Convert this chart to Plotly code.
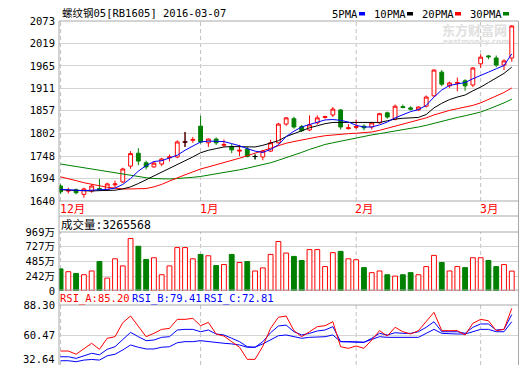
import plotly.graph_objects as go

# ---------------- data ----------------
idx = list(range(59))
month_labels = ["12月", "1月", "2月", "3月"]
month_pos = [0, 18, 38, 54]

opens = [1676,1664,1667,1656,1664,1670,1667,1679,1686,1724,1755,1732,1722,1729,1744,1746,1782,1786,1820,1780,
         1789,1774,1770,1760,1765,1747,1746,1760,1780,1825,1838,1819,1811,1828,1841,1847,1859,1814,1817,1820,
         1818,1828,1852,1837,1867,1864,1859,1868,1893,1950,1917,1923,1929,1919,1970,1989,1984,1967,1984]
highs = [1680,1672,1670,1672,1680,1693,1684,1689,1720,1760,1767,1737,1736,1744,1752,1786,1806,1794,1845,1790,
         1793,1788,1777,1775,1770,1752,1763,1787,1828,1842,1843,1823,1846,1846,1845,1866,1861,1825,1836,1824,
         1830,1852,1855,1872,1872,1868,1868,1894,1957,1955,1927,1937,1933,1962,1993,1991,1990,1981,2063]
lows = [1657,1658,1656,1648,1660,1664,1664,1672,1683,1718,1726,1716,1720,1724,1735,1743,1770,1780,1778,1770,
        1775,1770,1755,1748,1745,1740,1738,1758,1778,1821,1814,1806,1808,1824,1838,1842,1812,1812,1813,1810,
        1812,1826,1838,1834,1863,1858,1857,1865,1891,1916,1912,1904,1905,1914,1960,1981,1962,1955,1975]
closes = [1662,1665,1660,1669,1676,1667,1681,1681,1717,1754,1736,1722,1731,1741,1746,1782,1782,1788,1782,1789,
          1780,1776,1763,1762,1747,1747,1760,1780,1825,1840,1818,1809,1823,1840,1843,1861,1818,1816,1819,1816,
          1828,1850,1842,1868,1865,1861,1866,1890,1955,1921,1924,1925,1917,1960,1986,1987,1967,1977,2061]

ma5 = [1668,1667,1666,1665,1666,1667,1668,1671,1680,1694,1712,1725,1735,1737,1744,1750,1762,1773,1782,1784,
       1784,1783,1778,1773,1766,1760,1757,1764,1775,1795,1808,1818,1824,1830,1835,1836,1834,1830,1822,1818,
       1818,1823,1830,1840,1848,1855,1860,1870,1890,1907,1918,1922,1925,1934,1943,1950,1958,1966,1994]
ma10 = [1667,1666,1665,1664,1664,1665,1665,1666,1669,1674,1682,1691,1700,1710,1718,1727,1736,1746,1756,1762,
        1766,1770,1771,1771,1770,1770,1774,1779,1785,1795,1802,1810,1816,1821,1826,1829,1829,1828,1828,1828,
        1828,1829,1833,1837,1839,1840,1841,1848,1864,1875,1884,1890,1895,1905,1914,1925,1935,1947,1962]
ma20 = [1698,1694,1689,1684,1680,1676,1673,1671,1669,1669,1669,1670,1674,1680,1688,1696,1703,1710,1717,1722,
        1727,1732,1737,1743,1749,1755,1762,1768,1774,1779,1783,1787,1790,1794,1797,1799,1801,1802,1803,1805,
        1806,1810,1815,1820,1824,1829,1834,1840,1847,1853,1858,1862,1866,1870,1876,1884,1892,1901,1912]
ma30 = [1729,1726,1723,1720,1716,1713,1710,1707,1704,1701,1698,1696,1694,1693,1693,1694,1695,1697,1699,1702,
        1705,1708,1711,1715,1719,1723,1727,1732,1738,1744,1751,1757,1764,1770,1776,1780,1784,1788,1792,1796,
        1799,1802,1805,1809,1812,1815,1818,1822,1827,1832,1837,1841,1845,1849,1854,1861,1868,1876,1885]

volume_wan = [363,317,289,267,329,484,212,529,412,863,735,518,546,267,412,713,713,529,601,579,
              418,434,601,468,484,329,379,601,813,623,568,501,680,680,401,630,651,529,513,384,
              301,329,267,245,267,301,267,401,585,468,329,401,384,546,546,501,401,434,326.56]

rsi_a = [45.6,45.6,42.6,48.1,52.8,47.2,57.4,58.9,71.9,78.1,68.2,58.9,62.0,65.7,66.6,75.0,75.0,75.9,69.1,72.2,
         61.4,59.5,54.3,49.1,37.9,37.9,50.0,66.7,76.9,78.1,64.5,58.9,63.5,68.2,69.1,72.8,49.6,48.1,50.3,48.1,
         55.8,64.5,59.5,67.6,63.5,61.4,64.5,72.8,81.5,64.5,64.5,64.5,60.5,71.3,75.0,73.7,64.5,65.7,85.20]
rsi_b = [40.3,40.3,38.8,41.2,43.5,42.1,47.2,49.6,55.8,62.9,58.9,55.2,55.8,58.3,58.9,65.1,65.7,65.7,63.5,65.1,
         61.4,60.5,57.4,54.3,49.6,49.1,54.3,62.6,68.8,69.7,63.5,60.5,62.0,64.2,65.1,68.2,54.3,54.3,54.3,53.7,
         57.4,62.0,60.5,62.6,62.0,62.0,63.5,67.6,72.8,63.5,63.5,63.5,62.0,67.6,70.7,70.7,65.1,65.7,79.41]
rsi_c = [36.6,36.6,35.7,37.2,37.8,37.2,41.2,42.6,46.6,51.2,49.1,47.5,47.5,49.1,49.6,53.3,54.3,54.3,55.2,54.3,
         53.3,52.8,52.2,51.2,49.1,49.1,52.2,56.4,59.8,60.5,58.9,57.4,58.3,58.3,58.9,60.5,54.3,54.3,54.3,53.7,
         56.4,58.9,58.3,58.3,58.3,58.3,58.3,62.0,65.7,62.0,61.4,61.4,61.4,63.5,65.7,65.7,63.5,63.5,72.81]

price_ticks = [1640, 1694, 1748, 1802, 1857, 1911, 1965, 2019, 2073]
vol_ticks = [0, 242, 485, 727, 969]
vol_tick_text = ["0", "242万", "485万", "727万", "969万"]
rsi_ticks = [60.47, 88.30]
rsi_tick_text = ["60.47", "88.30"]
rsi_bottom_label = "32.64"

title_text = "螺纹钢05[RB1605] 2016-03-07"
vol_header = "成交量:3265568"
legend_names = ["5PMA", "10PMA", "20PMA", "30PMA"]

# ---------------- styles ----------------
RED = "#ff0000"
GREEN = "#008000"
BLUE = "#0000ff"
BLACK = "#000000"
GRID = "#d4d4d4"
BORDER = "#a8a8a8"
FONT = "DejaVu Sans Mono, Noto Sans CJK SC, monospace"
FS = 10.5

W, H = 520, 365
ML, MR = 59, 2
PW = W - ML - MR


def px(x):
    return (x - ML) / PW


def py(y):
    return 1 - y / H


fig = go.Figure()

fig.add_trace(go.Candlestick(
    x=idx, open=opens, high=highs, low=lows, close=closes,
    increasing=dict(line=dict(color=RED, width=1), fillcolor="#ffffff"),
    decreasing=dict(line=dict(color=GREEN, width=1), fillcolor=GREEN),
    whiskerwidth=0, hoverinfo="skip", xaxis="x", yaxis="y"))

dx, dy = [], []
for i in idx:
    if opens[i] == closes[i]:
        dx += [i, i, None, i - 0.33, i + 0.33, None]
        dy += [lows[i], highs[i], None, closes[i], closes[i], None]
fig.add_trace(go.Scatter(x=dx, y=dy, mode="lines", line=dict(color=BLACK, width=1),
                         hoverinfo="skip", xaxis="x", yaxis="y"))

for vals, col in [(ma30, GREEN), (ma20, RED), (ma10, BLACK), (ma5, BLUE)]:
    fig.add_trace(go.Scatter(x=idx, y=vals, mode="lines", line=dict(color=col, width=1),
                             hoverinfo="skip", xaxis="x", yaxis="y"))

down = [closes[i] < opens[i] for i in idx]
fig.add_trace(go.Bar(
    x=idx, y=volume_wan, width=0.62,
    marker=dict(color=[GREEN if d else "#ffffff" for d in down],
                line=dict(color=[GREEN if d else RED for d in down], width=1)),
    hoverinfo="skip", xaxis="x", yaxis="y2"))

for vals, col in [(rsi_c, BLUE), (rsi_b, BLUE), (rsi_a, RED)]:
    fig.add_trace(go.Scatter(x=idx, y=vals, mode="lines", line=dict(color=col, width=1),
                             hoverinfo="skip", xaxis="x", yaxis="y3"))

# ---------------- shapes ----------------
shapes = []
panels = [(21, 201), (232, 290), (305, 365)]
for m in month_pos:
    for (t, b) in panels:
        shapes.append(dict(type="line", xref="x", yref="paper", x0=m, x1=m, y0=py(b), y1=py(t),
                           line=dict(color="#c0c0c0", width=1, dash="4px,3px"), layer="below"))
for y in [21, 201, 216, 232, 290, 305]:
    shapes.append(dict(type="line", xref="paper", yref="paper", x0=px(59), x1=px(518.5),
                       y0=py(y), y1=py(y), line=dict(color=BORDER, width=1)))
for x in [59, 518.5]:
    shapes.append(dict(type="line", xref="paper", yref="paper", x0=px(x), x1=px(x),
                       y0=py(365), y1=py(21), line=dict(color=BORDER, width=1)))
key_cols = [BLUE, BLACK, RED, GREEN]
key_x = [359, 407, 455, 503]
for c, kx in zip(key_cols, key_x):
    shapes.append(dict(type="rect", xref="paper", yref="paper", x0=px(kx), x1=px(kx + 6),
                       y0=py(15.5), y1=py(12), fillcolor=c, line=dict(width=0)))

# ---------------- annotations ----------------
ann = []


def text(t, x, y, color=BLACK, size=FS, anchor="left", family=FONT, xref="paper", xshift=0):
    ann.append(dict(text=t, x=x, y=y, xref=xref, yref="paper", xanchor=anchor, yanchor="middle",
                    showarrow=False, xshift=xshift, borderpad=0,
                    font=dict(family=family, size=size, color=color)))


text(title_text, px(61), py(13))
leg_x = [331, 373, 421, 469]
for name, lx in zip(legend_names, leg_x):
    text(name, px(lx), py(13.5))
text("<b>东方财富网</b>", px(474), py(29), color="#e0e0e0", size=13, anchor="center",
     family="Noto Sans CJK SC, sans-serif")
text("<b>eastmoney.com</b>", px(476), py(42), color="#e0e0e0", size=7.5, anchor="center",
     family="DejaVu Sans, sans-serif")
for lab, m in zip(month_labels, month_pos):
    text(lab, m, py(208.5), color=RED, size=11.5, xref="x", xshift=-2)
text(vol_header, px(60), py(224.5), size=11.5)
rsi_head = [("RSI_A:%.2f" % rsi_a[-1], RED, 59), ("RSI_B:%.2f" % rsi_b[-1], BLUE, 131),
            ("RSI_C:%.2f" % rsi_c[-1], BLUE, 203)]
for t, c, x0 in rsi_head:
    text(t, px(x0), py(298.5), color=c)
text(rsi_bottom_label, px(56), py(359), anchor="right")

axis_common = dict(showgrid=True, gridcolor=GRID, gridwidth=1, zeroline=False, showline=False,
                   ticks="", fixedrange=True, automargin=False, ticklabelstandoff=3,
                   tickfont=dict(family=FONT, size=FS, color=BLACK))

fig.update_layout(
    width=W, height=H, margin=dict(l=ML, r=MR, t=0, b=0, autoexpand=False),
    paper_bgcolor="#ffffff", plot_bgcolor="#ffffff", showlegend=False,
    xaxis=dict(domain=[0, 1], range=[-0.2, 58.8], anchor="y3", showgrid=False, zeroline=False,
               showticklabels=False, ticks="", rangeslider=dict(visible=False), fixedrange=True,
               automargin=False),
    yaxis=dict(domain=[py(201), py(21)], range=[1640, 2073], tickvals=price_ticks,
               ticktext=[str(v) for v in price_ticks], **axis_common),
    yaxis2=dict(domain=[py(291), py(232)], range=[0, 969], tickvals=vol_ticks,
                ticktext=vol_tick_text, anchor="x", **axis_common),
    yaxis3=dict(domain=[py(365), py(305)], range=[32.64, 88.30], tickvals=rsi_ticks + [32.64],
                ticktext=rsi_tick_text + [""], anchor="x", **axis_common),
    shapes=shapes, annotations=ann, bargap=0.3,
)

fig.write_html("out.html", config={"displayModeBar": False},
               post_script="document.body.style.margin='0';document.body.style.padding='0';")
